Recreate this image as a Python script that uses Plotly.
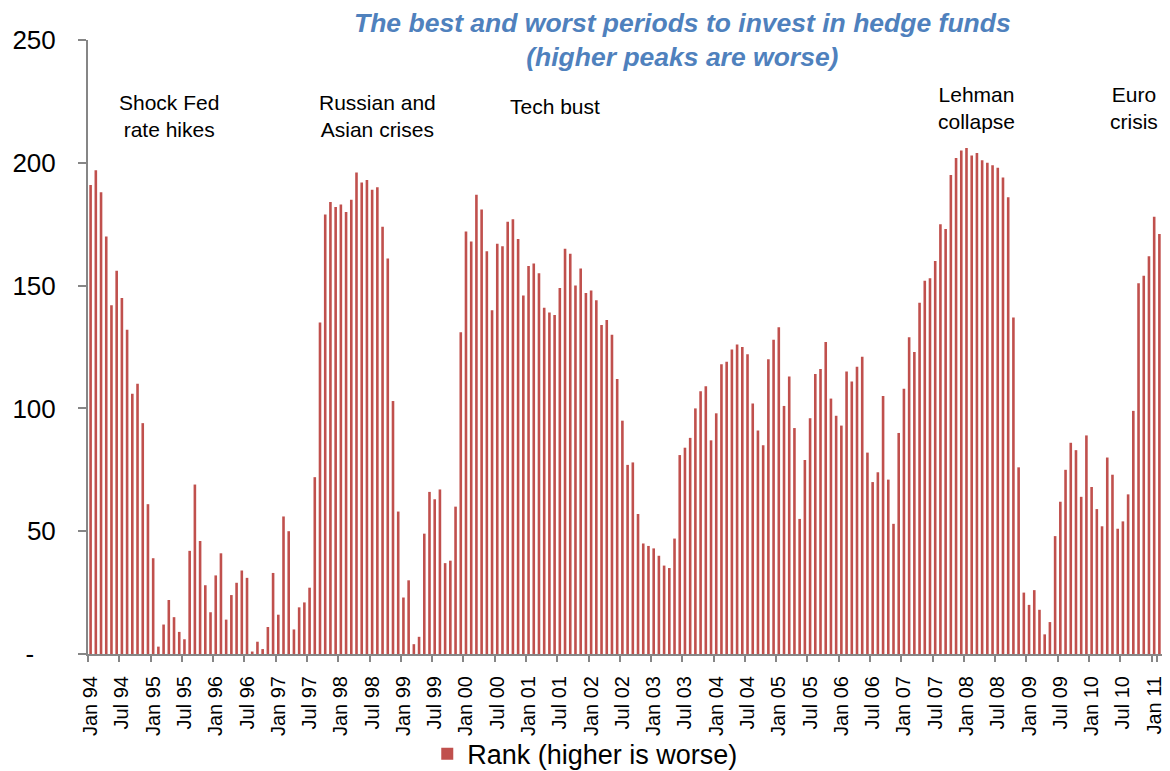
import plotly.graph_objects as go

# monthly rank, Jan 94 .. Feb 11
years = list(range(1994, 2012))
month_names = ["Jan", "Feb", "Mar", "Apr", "May", "Jun", "Jul", "Aug", "Sep", "Oct", "Nov", "Dec"]
months = [f"{m} {y % 100:02d}" for y in years for m in month_names][:206]

rank = [
    191, 197, 188, 170, 142, 156, 145, 132, 106, 110, 94, 61, 39, 3, 12, 22, 15, 9, 6, 42,
    69, 46, 28, 17, 32, 41, 14, 24, 29, 34, 31, 1, 5, 2, 11,
    33, 16, 56, 50, 10, 19, 21, 27, 72, 135, 179, 184, 182, 183, 180, 185, 196, 192, 193, 189,
    190, 174, 161, 103, 58, 23, 30, 4, 7, 49, 66, 63, 67, 37, 38, 60,
    131, 172, 168, 187, 181, 164, 140, 167, 166, 176, 177, 169, 146, 158, 159, 155, 141, 139, 138, 149,
    165, 163, 150, 157, 147, 148, 144, 134, 136, 130, 112, 95, 77, 78, 57,
    45, 44, 43, 40, 36, 35, 47, 81, 84, 88, 100, 107, 109, 87, 98, 118, 119, 124, 126, 125,
    122, 102, 91, 85, 120, 128, 133, 101, 113, 92, 55, 79, 96, 114, 116, 127,
    104, 97, 93, 115, 111, 117, 121, 82, 70, 74, 105, 71, 53, 90, 108, 129, 123, 143, 152, 153,
    160, 175, 173, 195, 202, 205, 206, 203, 204, 201, 200, 199, 198, 194, 186,
    137, 76, 25, 20, 26, 18, 8, 13, 48, 62, 75, 86, 83, 64, 89, 68, 59, 52, 80, 73,
    51, 54, 65, 99, 151, 154, 162, 178, 171,
]

tick_months = months[::6]
y_ticks = [0, 50, 100, 150, 200, 250]
y_ticktext = ["-\u00a0\u00a0\u00a0", "50", "100", "150", "200", "250"]

events = ["Shock Fed<br>rate hikes", "Russian and<br>Asian crises", "Tech bust",
          "Lehman<br>collapse"]
event_month = ["Apr 95", "Aug 98", "Jun 01", "Mar 08"]
event_y = [219, 219, 223, 222.5]

FONT = "Arial, Liberation Sans, sans-serif"
RED = "#C0504D"

fig = go.Figure()
fig.add_trace(go.Bar(
    x=months, y=rank, name="Rank (higher is worse)",
    marker=dict(color=RED, line=dict(width=0)),
))

# event labels
for txt, m, yy in zip(events, event_month, event_y):
    fig.add_annotation(x=m, y=yy, text=txt, showarrow=False, xanchor="center",
                       font=dict(family=FONT, size=21, color="black"))
# last one sits against the right edge
fig.add_annotation(x=0.998, xref="paper", y=222.5, text="Euro<br>crisis", showarrow=False,
                   xanchor="right", align="center",
                   font=dict(family=FONT, size=21, color="black"))

fig.add_annotation(
    x=0.5535, xref="paper", y=1.0, yref="paper", yanchor="middle", showarrow=False,
    text="<b><i>The best and worst periods to invest in hedge funds<br>(higher peaks are worse)</i></b>",
    font=dict(family=FONT, size=26.5, color="#4F81BD"),
)

# page body has an 8px margin, so the figure is 8px smaller than the window
fig.update_layout(
    width=1162, height=763,
    margin=dict(l=80, r=8, t=32, b=117, autoexpand=False),
    paper_bgcolor="white", plot_bgcolor="white",
    bargap=0.5,
    font=dict(family=FONT, color="black"),
    showlegend=True,
    legend=dict(orientation="h", x=0.463, xanchor="center", y=-0.163, yanchor="middle",
                bgcolor="rgba(0,0,0,0)",
                font=dict(family=FONT, size=27, color="black"), itemwidth=30),
    xaxis=dict(
        type="category", categoryorder="array", categoryarray=months,
        tickmode="array", tickvals=tick_months, ticktext=tick_months,
        tickson="boundaries",
        tickangle=-90, tickfont=dict(family=FONT, size=20, color="black"),
        ticks="outside", ticklen=6, tickcolor="#868686", tickwidth=2, ticklabelstandoff=12,
        showline=True, linecolor="#868686", linewidth=2,
        showgrid=False, range=[-0.5, 205.5], automargin=False,
    ),
    yaxis=dict(
        range=[0, 250], tickmode="array", tickvals=y_ticks, ticktext=y_ticktext,
        tickfont=dict(family=FONT, size=26, color="black"),
        ticks="outside", ticklen=8, tickcolor="#868686", tickwidth=2, ticklabelstandoff=17,
        showline=True, linecolor="#868686", linewidth=2,
        showgrid=False, zeroline=False, automargin=False,
    ),
)

fig.write_html("out.html")
